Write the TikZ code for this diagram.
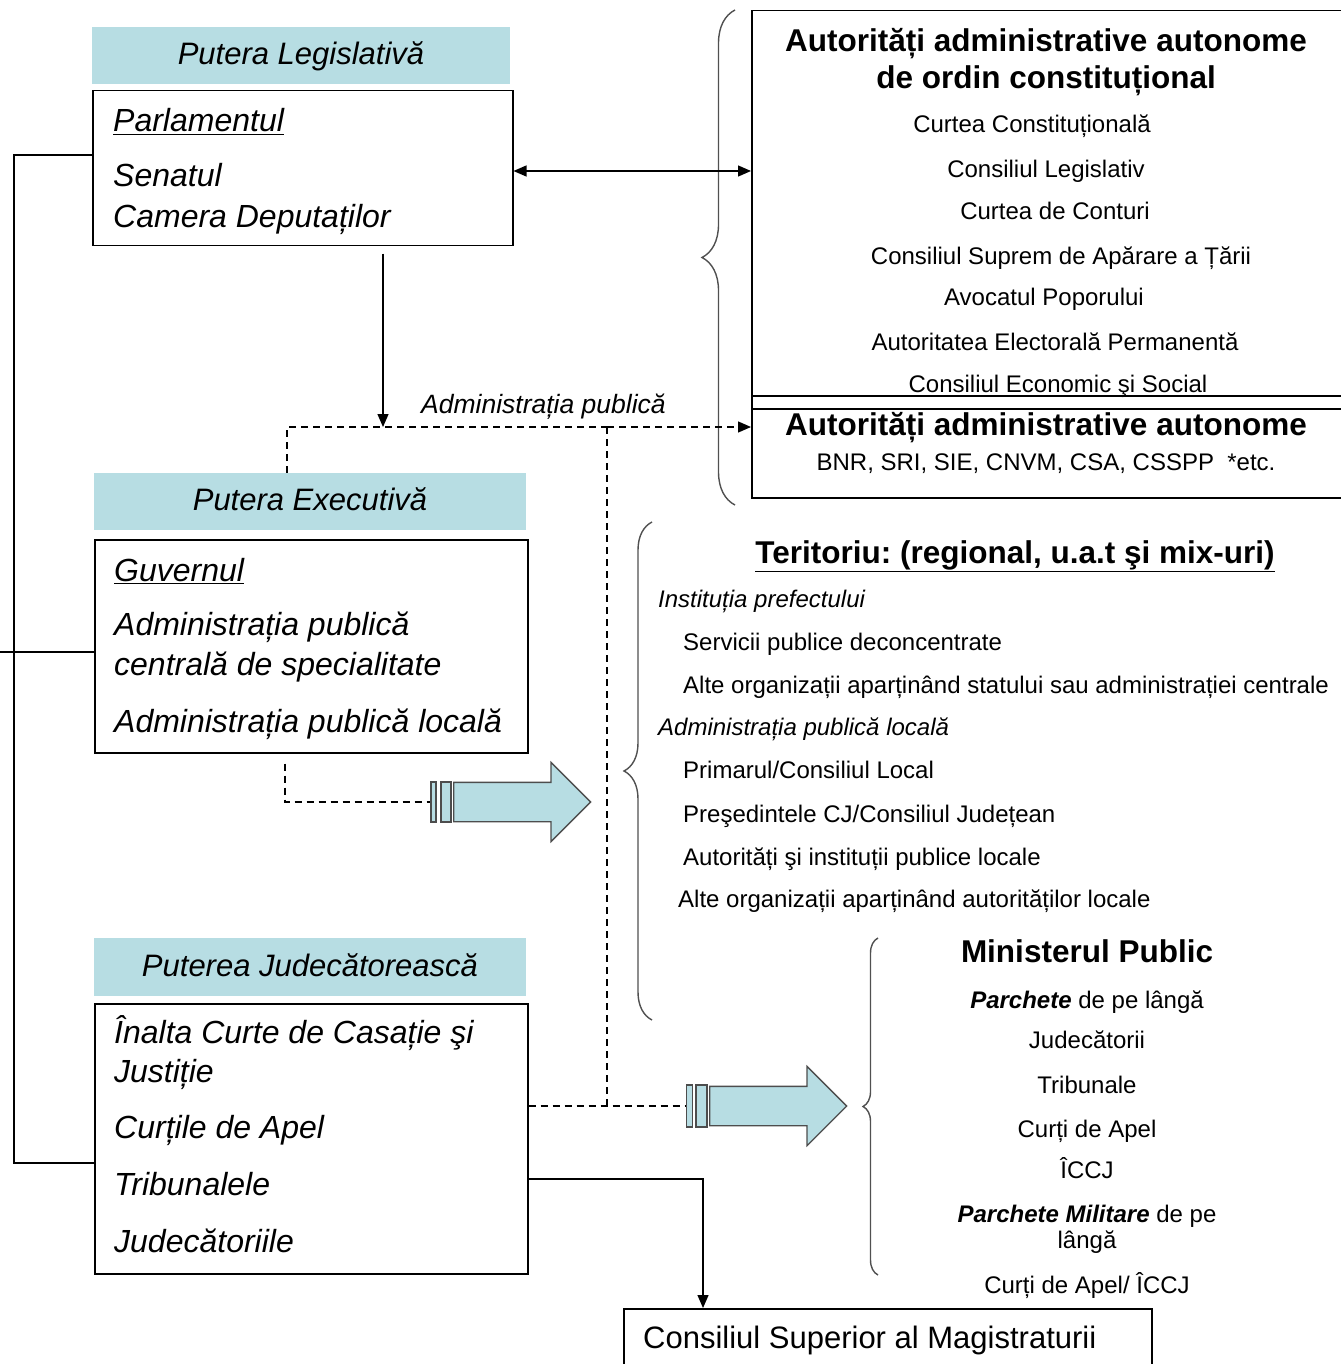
\documentclass[tikz,border=0pt]{standalone}
\usepackage{fontspec}
\setmainfont{Liberation Sans}
\usetikzlibrary{arrows.meta,shapes.arrows,decorations.pathreplacing}
\frenchspacing

\begin{document}
\begin{tikzpicture}[x=1pt,y=-1pt,
  >={Triangle[length=13pt,width=11pt]},
  hdr/.style={fill=hdrcol,minimum height=57pt,inner sep=0pt,text height=24pt,text depth=6pt,
    font=\fontsize{31}{37}\selectfont\itshape},
  box/.style={draw,line width=1.5pt,anchor=north west,inner sep=0pt},
  ltxt/.style={anchor=base west,inner sep=0pt,font=\fontsize{32}{38}\selectfont\itshape},
  rtxt/.style={anchor=base,inner sep=0pt,font=\fontsize{24}{29}\selectfont},
  wtxt/.style={anchor=base west,inner sep=0pt,font=\fontsize{24}{29}\selectfont},
  ttl/.style={anchor=base,inner sep=0pt,font=\fontsize{31.5}{38}\selectfont\bfseries},
  link/.style={line width=1.3pt},
  dashlink/.style={line width=1.3pt,dash pattern=on 7pt off 5pt},
  brc/.style={decorate,draw=brcol,line width=1.4pt},
  tl/.style={draw=arrline,fill=arrfill,line width=1.2pt,inner sep=0pt,minimum height=40pt},
  arrw/.style={single arrow,draw=arrline,fill=arrfill,line width=1.3pt,inner sep=0pt,
    text height=38pt,text depth=0pt,minimum width=0pt,single arrow head extend=20pt,
    minimum height=137pt,anchor=tail}]
\definecolor{hdrcol}{HTML}{B7DDE3}
\definecolor{arrfill}{HTML}{B7DDE3}
\definecolor{arrline}{HTML}{4D4D4D}
\definecolor{brcol}{HTML}{505050}
\useasboundingbox (0,0) rectangle (1340,1364);
\fill[white] (0,0) rectangle (1340,1364);

% puterea legislativa
\node[hdr,minimum width=418pt] (legHdr) at (301,55.5) {Putera Legislativă};
\node[box,minimum width=420pt,minimum height=155pt] (parl) at (92,90) {};
\node[ltxt] (parlTitle) at (113,132) {\underline{Parlamentul}};
\node[ltxt] (parlSen) at (113,187) {Senatul};
\node[ltxt] (parlCam) at (113,228) {Camera Deputaților};

% puterea executiva
\node[hdr,minimum width=432pt] (execHdr) at (310,501.5) {Putera Executivă};
\node[box,minimum width=433pt,minimum height=213pt] (exec) at (94,539) {};
\node[ltxt] (execGuv) at (114,581) {\underline{Guvernul}};
\node[ltxt] (execAdmA) at (114,635) {Administrația publică};
\node[ltxt] (execAdmB) at (114,675) {centrală de specialitate};
\node[ltxt] (execLoc) at (114,732) {Administrația publică locală};

% puterea judecatoreasca
\node[hdr,minimum width=432pt,minimum height=58pt] (judHdr) at (310,967) {Puterea Judecătorească};
\node[box,minimum width=433pt,minimum height=270pt] (jud) at (94,1003) {};
\node[ltxt] (judIccjA) at (114,1043) {Înalta Curte de Casație şi};
\node[ltxt] (judIccjB) at (114,1082) {Justiție};
\node[ltxt] (judCa) at (114,1138) {Curțile de Apel};
\node[ltxt] (judTrib) at (114,1195) {Tribunalele};
\node[ltxt] (judJud) at (114,1252) {Judecătoriile};

% autoritati autonome
\node[box,minimum width=600pt,minimum height=398pt] (autCon) at (751,10) {};
\node[box,minimum width=600pt,minimum height=102pt] (autAdm) at (751,395) {};
\node[ttl] (autConT1) at (1046,52) {Autorități administrative autonome};
\node[ttl] (autConT2) at (1046,89) {de ordin constituțional};
\node[rtxt] (autCC) at (1032,133) {Curtea Constituțională};
\node[rtxt] (autCL) at (1046,178) {Consiliul Legislativ};
\node[rtxt] (autCdC) at (1055,220) {Curtea de Conturi};
\node[rtxt] (autCSAT) at (1061,265) {Consiliul Suprem de Apărare a Țării};
\node[rtxt] (autAP) at (1044,305) {Avocatul Poporului};
\node[rtxt] (autAEP) at (1055,350) {Autoritatea Electorală Permanentă};
\node[rtxt] (autCES) at (1058,392) {Consiliul Economic şi Social};
\node[ttl] (autAdmT) at (1046,435) {Autorități administrative autonome};
\node[rtxt] (autAdmL) at (1046,470) {BNR, SRI, SIE, CNVM, CSA, CSSPP\ \ *etc.};

% teritoriu
\node[ttl] (terT) at (1015,563) {\underline{Teritoriu: (regional, u.a.t şi mix-uri)}};
\node[wtxt,font=\fontsize{24}{29}\selectfont\itshape] (terPref) at (658,607) {Instituția prefectului};
\node[wtxt] (terServ) at (683,650) {Servicii publice deconcentrate};
\node[wtxt] (terAlteC) at (683,693) {Alte organizații aparținând statului sau administrației centrale};
\node[wtxt,font=\fontsize{24}{29}\selectfont\itshape] (terApl) at (658,735) {Administrația publică locală};
\node[wtxt] (terPrim) at (683,778) {Primarul/Consiliul Local};
\node[wtxt] (terPres) at (683,822) {Preşedintele CJ/Consiliul Județean};
\node[wtxt] (terAut) at (683,865) {Autorități şi instituții publice locale};
\node[wtxt] (terAlteL) at (678,907) {Alte organizații aparținând autorităților locale};

% ministerul public
\node[ttl] (mpT) at (1087,962) {Ministerul Public};
\node[rtxt] (mpParch) at (1087,1008) {\textbf{\textit{Parchete}} de pe lângă};
\node[rtxt] (mpJud) at (1087,1048) {Judecătorii};
\node[rtxt] (mpTrib) at (1087,1093) {Tribunale};
\node[rtxt] (mpCa) at (1087,1137) {Curți de Apel};
\node[rtxt] (mpIccj) at (1087,1178) {ÎCCJ};
\node[rtxt] (mpMilA) at (1087,1222) {\textbf{\textit{Parchete Militare}} de pe};
\node[rtxt] (mpMilB) at (1087,1248) {lângă};
\node[rtxt] (mpMilC) at (1087,1293) {Curți de Apel/ ÎCCJ};

% csm
\node[box,minimum width=528pt,minimum height=80pt] (csm) at (623,1308) {};
\node[anchor=base west,inner sep=0pt,font=\fontsize{31}{37}\selectfont] (csmT) at (643,1348) {Consiliul Superior al Magistraturii};

% sageti bloc
\node[tl,minimum width=5pt] (tailEA) at (433.5,802) {};
\node[tl,minimum width=10pt] (tailEB) at (446,802) {};
\node[arrw] (arrExec) at (453,802) {};
\node[tl,minimum width=6pt,minimum height=42pt] (tailJA) at (689.5,1106) {};
\node[tl,minimum width=11pt,minimum height=42pt] (tailJB) at (701.5,1106) {};
\node[arrw] (arrJud) at (709,1106) {};

% acolade
\draw[brc,decoration={brace,amplitude=33pt}] (735,505) -- (735,10);
\draw[brc,decoration={brace,amplitude=28pt}] (652,1020) -- (652,522);
\draw[brc,decoration={brace,amplitude=15pt}] (878,1275) -- (878,938);

% legaturi
\coordinate (spineTop) at (14,155);
\coordinate (spineBot) at (14,1163);
\coordinate (spineExec) at (0,652);
\coordinate (autLink) at (751,171);
\coordinate (admL) at (287,427);
\coordinate (admM) at (383,427);
\coordinate (admR) at (607,427);
\coordinate (csmLink) at (703,1179);
\draw[link] (parl.west |- spineTop) -- (spineTop) -- (spineBot) -- (jud.west |- spineBot);
\draw[link] (spineExec) -- (exec.west |- spineExec);
\draw[link,<->] (parl.east |- autLink) -- (autCon.west |- autLink);
\draw[link,->] (parl.south -| admM) ++(0,7) -- (admM);
\draw[dashlink] (execHdr.north -| admL) -- (admL) -- (admR);
\draw[dashlink,->] (admR) -- (autAdm.west |- admL);
\draw[dashlink] (admR) -- (admR |- tailJA);
\node[anchor=base west,inner sep=0pt,font=\fontsize{26.5}{32}\selectfont\itshape] (admLbl) at (421,413) {Administrația publică};
\draw[dashlink] (exec.south -| admL) ++(-2,10) |- (tailEA.west);
\draw[dashlink] (jud.east |- tailJA) -- (tailJA.west);
\draw[link,->] (jud.east |- csmLink) -| (csm.north -| csmLink);
\end{tikzpicture}
\end{document}
